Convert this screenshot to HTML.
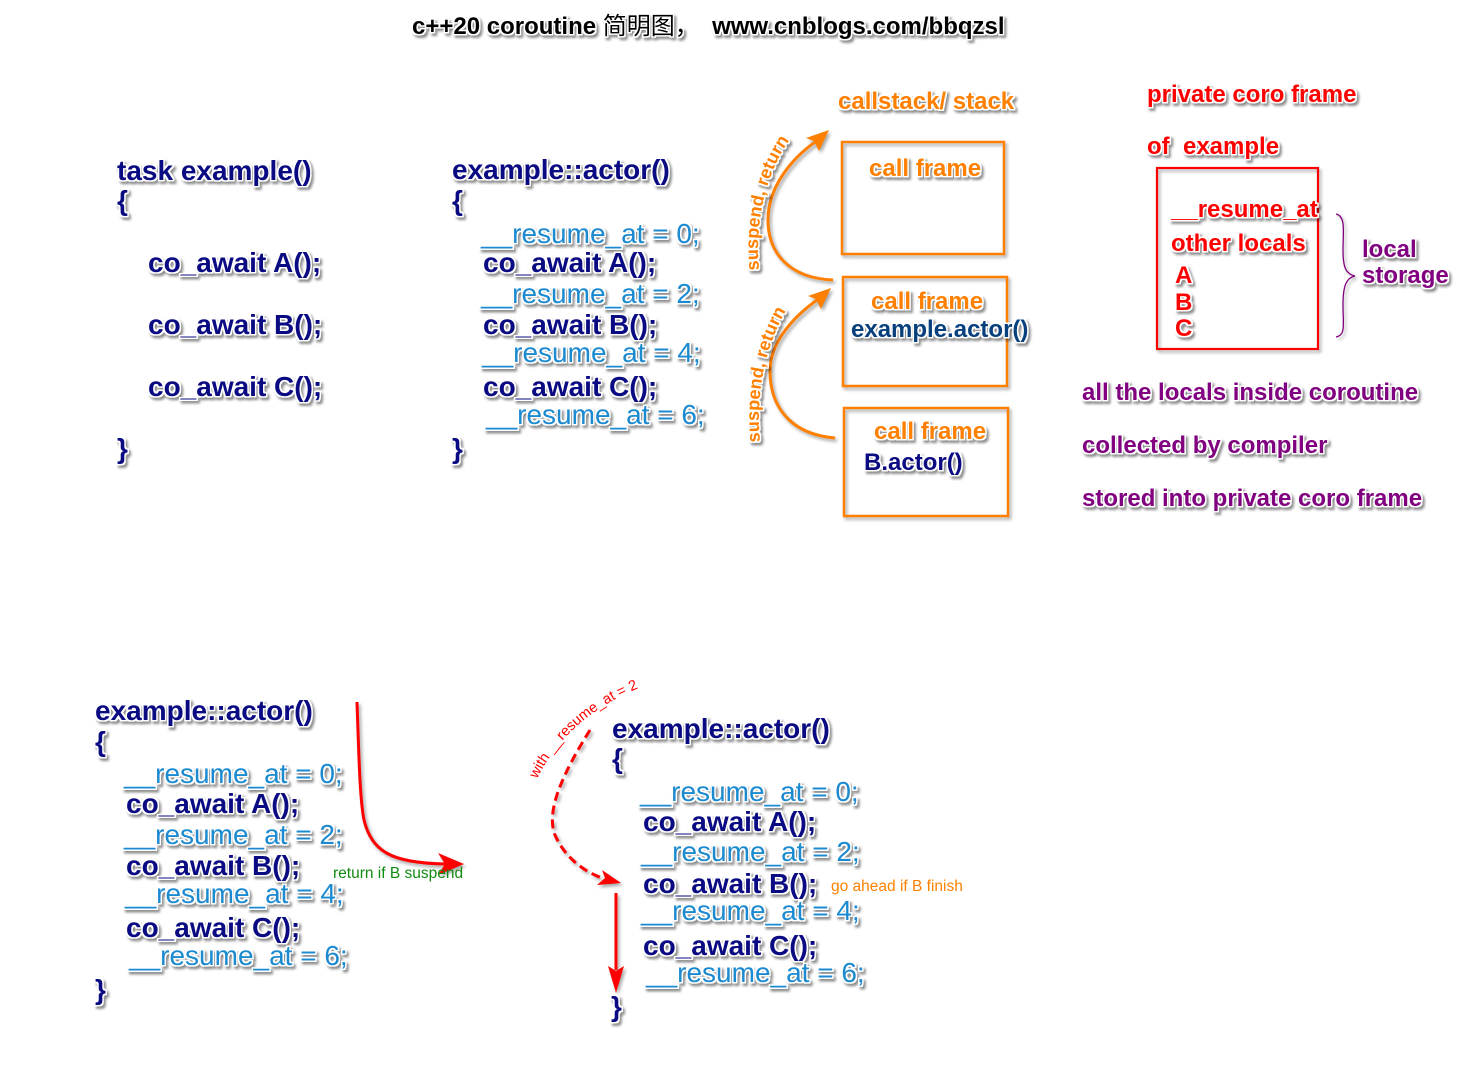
<!DOCTYPE html>
<html><head><meta charset="utf-8">
<style>
html,body{margin:0;padding:0;background:#fff;}
svg{display:block;}
text{font-family:"Liberation Sans","Noto Sans CJK SC",sans-serif;}
.b{font-weight:bold;}
.nv{fill:#0a0a82;font-weight:bold;font-size:28px;}
.lb{fill:#1b8ad0;font-size:28px;}
.or{fill:#ff8000;font-weight:bold;font-size:24px;}
.rd{fill:#f00;font-weight:bold;font-size:24px;}
.pp{fill:#800080;font-weight:bold;font-size:24px;}
</style></head>
<body>
<svg width="1474" height="1092" viewBox="0 0 1474 1092" xmlns="http://www.w3.org/2000/svg">
<defs>
<filter id="f" filterUnits="userSpaceOnUse" x="0" y="0" width="1474" height="1092" color-interpolation-filters="sRGB">
 <feMorphology in="SourceAlpha" operator="dilate" radius="1.6" result="d"/>
 <feGaussianBlur in="d" stdDeviation="1.3" result="bl"/>
 <feOffset in="bl" dx="2" dy="2.5" result="o"/>
 <feComponentTransfer in="o" result="s"><feFuncA type="linear" slope="0.45"/></feComponentTransfer>
 <feFlood flood-color="#fff" result="w"/>
 <feComposite in="w" in2="d" operator="in" result="wo"/>
 <feMerge><feMergeNode in="s"/><feMergeNode in="wo"/><feMergeNode in="SourceGraphic"/></feMerge>
</filter>
<filter id="g" filterUnits="userSpaceOnUse" x="0" y="0" width="1474" height="1092" color-interpolation-filters="sRGB">
 <feGaussianBlur in="SourceAlpha" stdDeviation="1.5" result="bl"/>
 <feOffset in="bl" dx="2" dy="2.5" result="o"/>
 <feComponentTransfer in="o" result="s"><feFuncA type="linear" slope="0.35"/></feComponentTransfer>
 <feMerge><feMergeNode in="s"/><feMergeNode in="SourceGraphic"/></feMerge>
</filter>
</defs>

<!-- shapes -->
<g filter="url(#g)">
 <rect x="842" y="142" width="162" height="112" fill="none" stroke="#ff8000" stroke-width="2.5"/>
 <rect x="843" y="277" width="164" height="109" fill="none" stroke="#ff8000" stroke-width="2.5"/>
 <rect x="844" y="408" width="164" height="108" fill="none" stroke="#ff8000" stroke-width="2.5"/>
 <rect x="1157" y="168" width="161" height="181" fill="none" stroke="#f00" stroke-width="2.2"/>

 <!-- orange arrows -->
 <path d="M833,280 C788,278 768,252 768,220 C768,188 790,160 815,142" fill="none" stroke="#ff8000" stroke-width="3"/>
 <polygon points="829,130 806,138 814,141 819,151" fill="#ff8000"/>
 <path d="M835,438 C787,434 770,403 770,371 C770,343 792,318 817,300" fill="none" stroke="#ff8000" stroke-width="3"/>
 <polygon points="831,288 808,296 816,299 821,309" fill="#ff8000"/>

 <!-- red arrows -->
 <path d="M357,702 C359,760 360,800 364,820 C372,852 392,863 445,864" fill="none" stroke="#f00" stroke-width="3"/>
 <polygon points="464,864 438,853 445,864 438,875" fill="#f00"/>
 <path d="M590,730 C565,770 545,810 555,835 C565,858 585,872 602,878" fill="none" stroke="#f00" stroke-width="3" stroke-dasharray="9 5"/>
 <polygon points="621,883 597,885 605,878 602,870" fill="#f00"/>
 <line x1="616" y1="893" x2="616" y2="970" stroke="#f00" stroke-width="3"/>
 <polygon points="616,993 608,966 616,971 624,966" fill="#f00"/>

 <!-- brace -->
 <path d="M1336,214 C1346,216 1343,232 1343,250 C1343,268 1346,274 1355,276 C1346,278 1343,286 1343,305 C1343,325 1346,335 1336,337" fill="none" stroke="#800080" stroke-width="1.3"/>
</g>

<!-- text with outline/shadow -->
<g filter="url(#f)">
 <text x="412" y="34" font-size="24" fill="#000" xml:space="preserve"><tspan font-weight="bold">c++20 coroutine </tspan><tspan>简明图，</tspan><tspan font-weight="bold">  www.cnblogs.com/bbqzsl</tspan></text>

 <!-- top-left -->
 <text class="nv" x="117" y="180">task example()</text>
 <text class="nv" x="117" y="210">{</text>
 <text class="nv" x="148" y="272">co_await A();</text>
 <text class="nv" x="148" y="334">co_await B();</text>
 <text class="nv" x="148" y="396">co_await C();</text>
 <text class="nv" x="117" y="458">}</text>

 <!-- middle -->
 <text class="nv" x="452" y="179">example::actor()</text>
 <text class="nv" x="452" y="210">{</text>
 <text class="lb" x="481" y="243">__resume_at = 0;</text>
 <text class="nv" x="483" y="272">co_await A();</text>
 <text class="lb" x="481" y="303">__resume_at = 2;</text>
 <text class="nv" x="483" y="334">co_await B();</text>
 <text class="lb" x="482" y="362">__resume_at = 4;</text>
 <text class="nv" x="483" y="396">co_await C();</text>
 <text class="lb" x="486" y="424">__resume_at = 6;</text>
 <text class="nv" x="452" y="458">}</text>

 <!-- callstack -->
 <text class="or" x="838" y="109">callstack/ stack</text>
 <text class="or" x="869" y="176">call frame</text>
 <text class="or" x="871" y="309">call frame</text>
 <text x="851" y="337" class="b" font-size="24" fill="#08407e">example.actor()</text>
 <text class="or" x="874" y="439">call frame</text>
 <text x="864" y="470" class="b" font-size="24" fill="#0a0a82">B.actor()</text>

 <path id="p1" d="M759,270 C755,225 764,172 794,134" fill="none"/>
 <path id="p2" d="M760,442 C756,397 763,347 790,304" fill="none"/>
 <text class="b" font-size="18" fill="#ff8000"><textPath href="#p1">suspend, return</textPath></text>
 <text class="b" font-size="18" fill="#ff8000"><textPath href="#p2">suspend, return</textPath></text>

 <!-- right -->
 <text class="rd" x="1147" y="102">private coro frame</text>
 <text class="rd" x="1147" y="154" xml:space="preserve">of  example</text>
 <text class="rd" x="1171" y="217">__resume_at</text>
 <text class="rd" x="1171" y="251">other locals</text>
 <text class="rd" x="1175" y="283">A</text>
 <text class="rd" x="1175" y="310">B</text>
 <text class="rd" x="1175" y="336">C</text>
 <text class="pp" x="1362" y="257">local</text>
 <text class="pp" x="1362" y="283">storage</text>
 <text class="pp" x="1082" y="400">all the locals inside coroutine</text>
 <text class="pp" x="1082" y="453">collected by compiler</text>
 <text class="pp" x="1082" y="506">stored into private coro frame</text>

 <!-- bottom-left -->
 <text class="nv" x="95" y="720">example::actor()</text>
 <text class="nv" x="95" y="751">{</text>
 <text class="lb" x="124" y="783">__resume_at = 0;</text>
 <text class="nv" x="126" y="813">co_await A();</text>
 <text class="lb" x="124" y="844">__resume_at = 2;</text>
 <text class="nv" x="126" y="875">co_await B();</text>
 <text class="lb" x="125" y="903">__resume_at = 4;</text>
 <text class="nv" x="126" y="937">co_await C();</text>
 <text class="lb" x="129" y="965">__resume_at = 6;</text>
 <text class="nv" x="95" y="999">}</text>

 <!-- bottom-right -->
 <text class="nv" x="612" y="738">example::actor()</text>
 <text class="nv" x="612" y="768">{</text>
 <text class="lb" x="640" y="801">__resume_at = 0;</text>
 <text class="nv" x="643" y="831">co_await A();</text>
 <text class="lb" x="641" y="861">__resume_at = 2;</text>
 <text class="nv" x="643" y="893">co_await B();</text>
 <text class="lb" x="641" y="920">__resume_at = 4;</text>
 <text class="nv" x="643" y="955">co_await C();</text>
 <text class="lb" x="646" y="982">__resume_at = 6;</text>
 <text class="nv" x="611" y="1016">}</text>
</g>

<!-- small plain labels -->
<text x="333" y="878" font-size="15.5" fill="#118a11">return if B suspend</text>
<text x="831" y="891" font-size="15.5" fill="#ff8000">go ahead if B finish</text>
<path id="p3" d="M537,779 Q570,712 652,683" fill="none"/>
<text font-size="14.5" fill="#f00"><textPath href="#p3">with __resume_at = 2</textPath></text>
</svg>
</body></html>
